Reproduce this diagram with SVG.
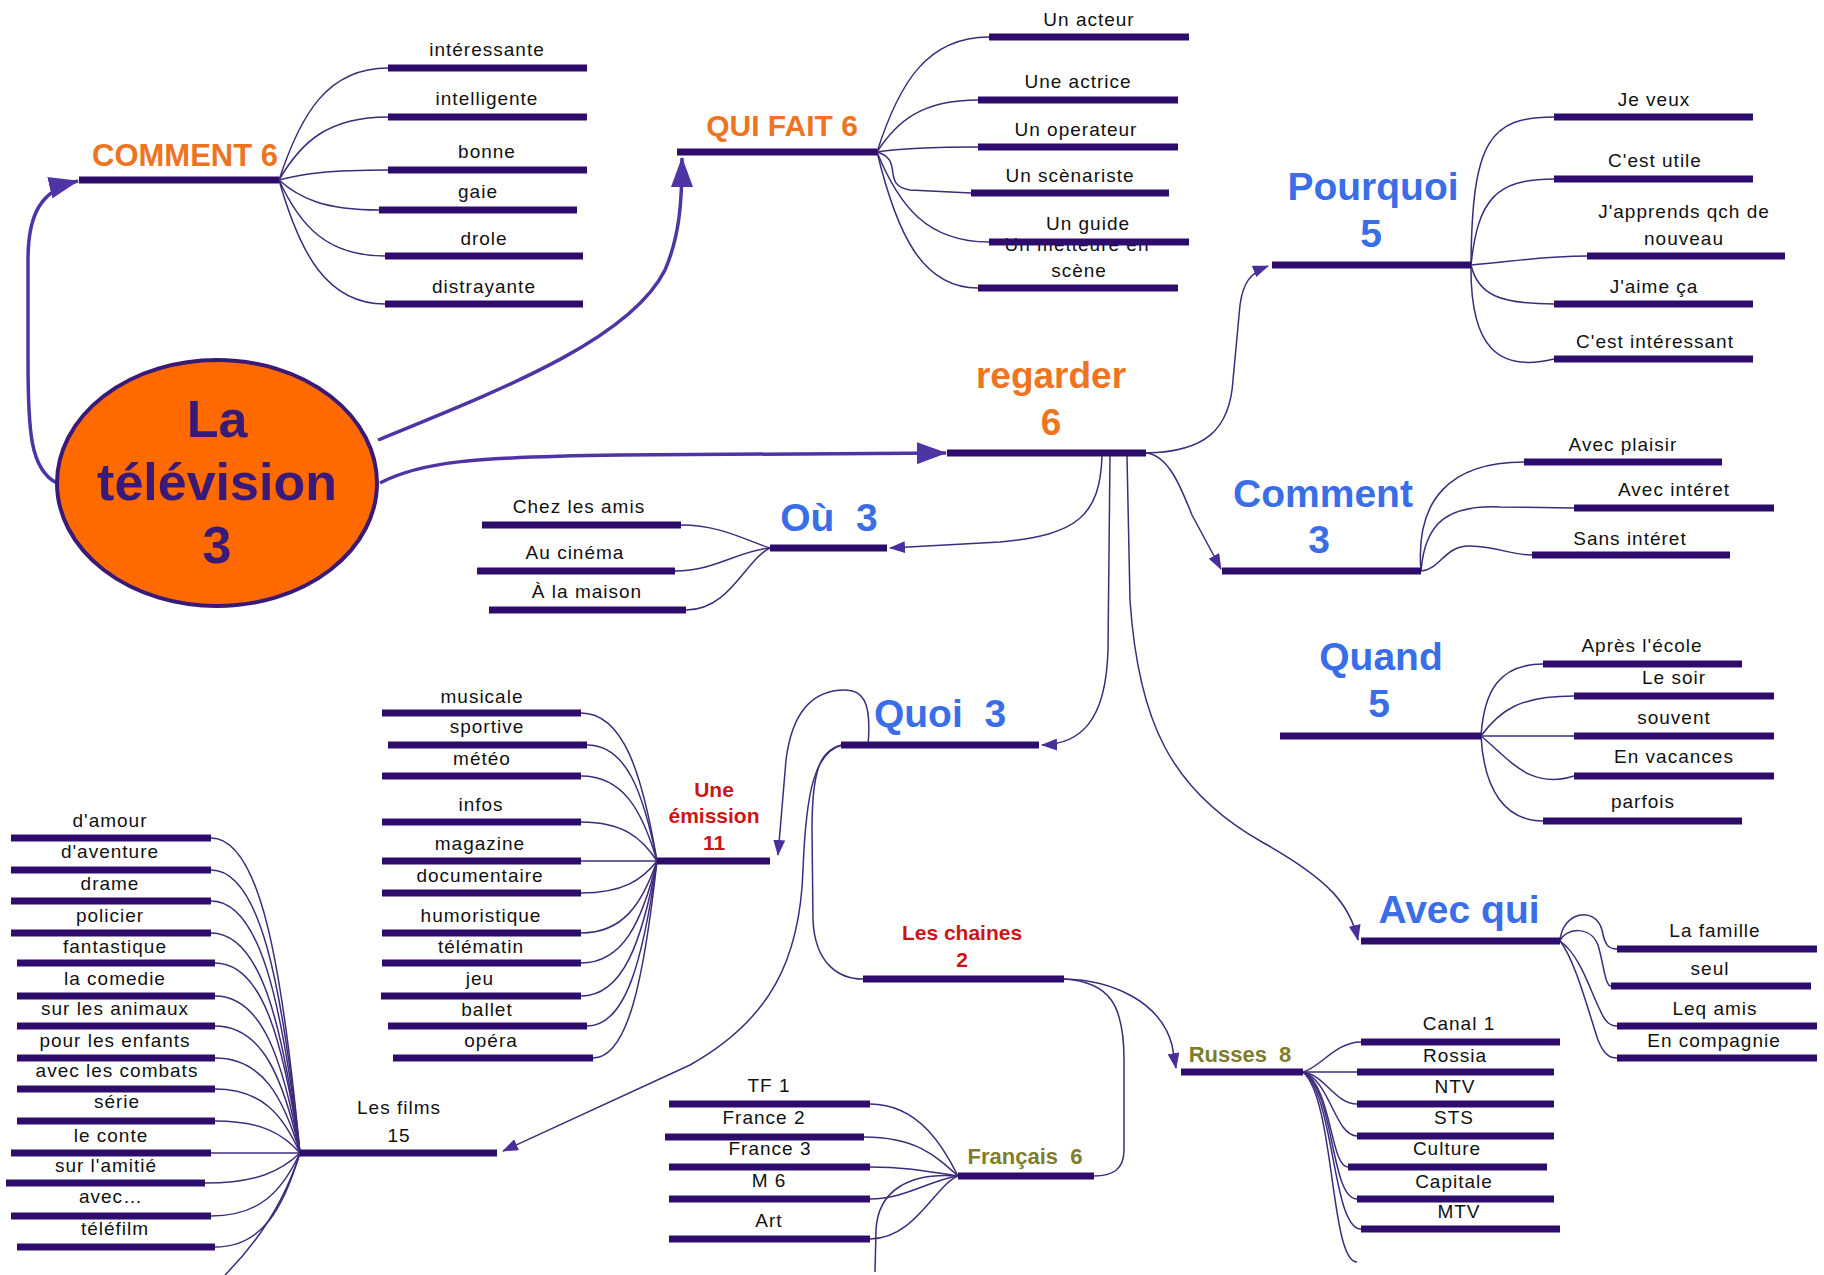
<svg xmlns="http://www.w3.org/2000/svg" width="1824" height="1275" viewBox="0 0 1824 1275">
<defs>
<style>
.bar{stroke:#2E0C6C;stroke-width:7;}
.c{fill:none;stroke:#3E2B7C;stroke-width:1.5;}
.ca{fill:none;stroke:#3E2B7C;stroke-width:1.5;marker-end:url(#ah);}
.big{fill:none;stroke:#4F34A6;stroke-width:3.5;marker-end:url(#bh);}
.t{font-family:"Liberation Sans",Arial,sans-serif;font-size:19px;letter-spacing:1px;fill:#111;text-anchor:middle;}
.h{font-family:"Liberation Sans",Arial,sans-serif;font-weight:bold;text-anchor:middle;}
.or{fill:#EE7422;}
.bl{fill:#3A6EE8;font-size:39px;}
.rd{fill:#CC1515;font-size:21px;}
.ol{fill:#7D7D2B;font-size:22px;}
.root{font-family:"Liberation Sans",Arial,sans-serif;font-weight:bold;font-size:52px;fill:#3A1A78;text-anchor:middle;}
</style>
<marker id="ah" viewBox="0 0 16 12" refX="15" refY="6" markerWidth="16" markerHeight="12" markerUnits="userSpaceOnUse" orient="auto"><path d="M0,0 L16,6 L0,12 z" fill="#4A2F9A"/></marker>
<marker id="bh" viewBox="0 0 30 22" refX="29" refY="11" markerWidth="30" markerHeight="22" markerUnits="userSpaceOnUse" orient="auto"><path d="M0,0 L30,11 L0,22 z" fill="#4F34A6"/></marker>
</defs>
<rect width="1824" height="1275" fill="#fff"/>

<g id="connectors">
<!-- root arrows -->
<path class="big" d="M57,483 C30,470 28,430 28,360 L28,260 C28,215 40,190 78,181"/>
<path class="big" d="M378,440 C500,390 630,340 665,270 C680,235 682,200 682,158"/>
<path class="big" d="M380,483 C420,462 470,457 620,455 L946,453"/>
<!-- COMMENT 6 -->
<path class="c" d="M279,180 C301,113 328,68 388,68"/>
<path class="c" d="M279,180 C301,142 328,117 388,117"/>
<path class="c" d="M279,180 C301,174 328,170 388,170"/>
<path class="c" d="M279,180 C299,198 324,210 379,210"/>
<path class="c" d="M279,180 C300,226 327,256 385,256"/>
<path class="c" d="M279,180 C300,254 327,304 385,304"/>
<!-- QUI FAIT 6 -->
<path class="c" d="M877,152 C899,83 927,37 989,37"/>
<path class="c" d="M877,152 C897,121 922,100 978,100"/>
<path class="c" d="M877,152 C897,149 922,147 978,147"/>
<path class="c" d="M877,152 C905,160 880,185 910,190 L971,193"/>
<path class="c" d="M877,152 C899,206 927,242 989,242"/>
<path class="c" d="M877,152 C897,234 922,288 978,288"/>
<!-- regarder -->
<path class="ca" d="M1146,453 C1205,452 1230,430 1233,380 L1240,305 C1243,283 1250,273 1268,266"/>
<path class="ca" d="M1146,453 C1168,455 1180,485 1192,515 L1221,569"/>
<path class="ca" d="M1102,456 C1100,515 1078,535 1000,542 L890,548"/>
<path class="ca" d="M1110,456 L1108,650 C1106,722 1080,744 1042,745"/>
<path class="ca" d="M1127,456 L1130,600 C1138,720 1170,790 1262,842 C1330,880 1350,905 1358,940"/>
<!-- Pourquoi -->
<path class="c" d="M1471,265 C1472,140 1490,117 1554,117"/>
<path class="c" d="M1471,265 C1478,200 1495,179 1554,179"/>
<path class="c" d="M1471,265 C1510,262 1540,256 1587,256"/>
<path class="c" d="M1471,265 C1478,295 1500,304 1554,304"/>
<path class="c" d="M1471,265 C1470,350 1500,372 1554,359"/>
<!-- Comment 3 -->
<path class="c" d="M1421,571 C1415,500 1450,462 1524,462"/>
<path class="c" d="M1421,571 C1425,520 1450,505 1500,507 L1574,508"/>
<path class="c" d="M1421,571 C1440,570 1445,545 1470,546 C1500,547 1510,555 1532,555"/>
<!-- Quand -->
<path class="c" d="M1481,736 C1484,690 1500,664 1543,664"/>
<path class="c" d="M1481,736 C1500,710 1520,696 1574,696"/>
<path class="c" d="M1481,736 L1574,736"/>
<path class="c" d="M1481,736 C1510,760 1530,790 1574,776"/>
<path class="c" d="M1481,736 C1484,790 1505,821 1543,821"/>
<!-- Avec qui -->
<path class="c" d="M1560,941 C1562,912 1595,905 1602,930 C1605,945 1608,949 1617,949"/>
<path class="c" d="M1560,941 C1565,928 1590,925 1598,945 C1604,965 1605,986 1611,986"/>
<path class="c" d="M1560,941 C1580,955 1590,990 1600,1010 C1605,1022 1610,1026 1617,1026"/>
<path class="c" d="M1560,941 C1575,960 1588,1010 1598,1040 C1604,1055 1610,1058 1617,1058"/>
<!-- Où -->
<path class="c" d="M770,548 C745,540 720,525 681,525"/>
<path class="c" d="M770,548 C740,550 715,571 675,571"/>
<path class="c" d="M770,548 C745,560 730,610 686,610"/>
<!-- Quoi -->
<path class="ca" d="M868,745 C872,700 862,690 845,690 C812,690 792,712 786,760 L778,855"/>
<path class="c" d="M842,745 C820,750 812,770 812,830 L813,920 C815,965 840,979 863,979"/>
<path class="ca" d="M842,745 C815,752 806,790 803,870 C800,960 770,1020 690,1065 L503,1151"/>
<!-- Une émission -->
<path class="c" d="M657,861 C642,772 623,713 581,713"/>
<path class="c" d="M657,861 C643,791 626,745 587,745"/>
<path class="c" d="M657,861 C642,810 623,776 581,776"/>
<path class="c" d="M657,861 C642,838 623,822 581,822"/>
<path class="c" d="M657,861 L581,861"/>
<path class="c" d="M657,861 C642,880 623,893 581,893"/>
<path class="c" d="M657,861 C642,904 623,933 581,933"/>
<path class="c" d="M657,861 C642,922 623,963 581,963"/>
<path class="c" d="M657,861 C642,942 623,996 581,996"/>
<path class="c" d="M657,861 C643,960 626,1026 587,1026"/>
<path class="c" d="M657,861 C644,979 628,1058 593,1058"/>
<!-- Les films -->
<path class="c" d="M300,1153 C282,964 260,838 211,838"/>
<path class="c" d="M300,1153 C282,983 260,870 211,870"/>
<path class="c" d="M300,1153 C282,1002 260,901 211,901"/>
<path class="c" d="M300,1153 C282,1021 260,933 211,933"/>
<path class="c" d="M300,1153 C283,1039 262,963 215,963"/>
<path class="c" d="M300,1153 C283,1059 262,996 215,996"/>
<path class="c" d="M300,1153 C283,1077 262,1026 215,1026"/>
<path class="c" d="M300,1153 C283,1096 262,1058 215,1058"/>
<path class="c" d="M300,1153 C283,1115 262,1089 215,1089"/>
<path class="c" d="M300,1153 C283,1134 262,1121 215,1121"/>
<path class="c" d="M300,1153 L211,1153"/>
<path class="c" d="M300,1153 C281,1171 257,1183 205,1183"/>
<path class="c" d="M300,1153 C282,1191 260,1216 211,1216"/>
<path class="c" d="M300,1153 C283,1209 262,1247 215,1247"/>
<path class="c" d="M300,1153 C285,1200 260,1240 225,1275"/>
<!-- Les chaines -->
<path class="ca" d="M1064,979 C1110,980 1160,1000 1172,1045 L1176,1068"/>
<path class="c" d="M1064,979 C1110,982 1124,1005 1124,1060 L1124,1150 C1124,1170 1112,1176 1094,1176"/>
<!-- Français -->
<path class="c" d="M958,1176 C945,1150 920,1104 870,1104"/>
<path class="c" d="M958,1176 C935,1155 915,1137 864,1137"/>
<path class="c" d="M958,1176 C930,1172 910,1167 870,1167"/>
<path class="c" d="M958,1176 C930,1180 905,1199 870,1199"/>
<path class="c" d="M958,1176 C935,1185 915,1239 870,1239"/>
<path class="c" d="M958,1176 C910,1172 878,1190 876,1230 L875,1272"/>
<!-- Russes -->
<path class="c" d="M1303,1072 C1320,1068 1335,1042 1361,1042"/>
<path class="c" d="M1303,1072 L1357,1072"/>
<path class="c" d="M1303,1072 C1325,1075 1335,1104 1357,1104"/>
<path class="c" d="M1303,1072 C1330,1080 1335,1136 1357,1136"/>
<path class="c" d="M1303,1072 C1332,1085 1330,1167 1348,1167"/>
<path class="c" d="M1303,1072 C1335,1090 1330,1199 1357,1199"/>
<path class="c" d="M1303,1072 C1335,1095 1332,1229 1361,1229"/>
<path class="c" d="M1303,1072 C1335,1100 1330,1262 1357,1262"/>
</g>

<g id="node-root">
<ellipse cx="217" cy="483" rx="160" ry="123" fill="#FF6A00" stroke="#3A1A78" stroke-width="4"/>
<text class="root" x="217" y="437">La</text>
<text class="root" x="217" y="500">télévision</text>
<text class="root" x="217" y="563">3</text>
</g>

<g id="node-comment6"><line class="bar" x1="79" y1="180" x2="279" y2="180"/><text class="h or" x="185" y="166" font-size="31">COMMENT 6</text></g>
<g id="node-interessante"><text class="t" x="487" y="56">intéressante</text><line class="bar" x1="388" y1="68" x2="587" y2="68"/></g>
<g id="node-intelligente"><text class="t" x="487" y="105">intelligente</text><line class="bar" x1="388" y1="117" x2="587" y2="117"/></g>
<g id="node-bonne"><text class="t" x="487" y="158">bonne</text><line class="bar" x1="388" y1="170" x2="587" y2="170"/></g>
<g id="node-gaie"><text class="t" x="478" y="198">gaie</text><line class="bar" x1="379" y1="210" x2="577" y2="210"/></g>
<g id="node-drole"><text class="t" x="484" y="245">drole</text><line class="bar" x1="385" y1="256" x2="583" y2="256"/></g>
<g id="node-distrayante"><text class="t" x="484" y="293">distrayante</text><line class="bar" x1="385" y1="304" x2="583" y2="304"/></g>

<g id="node-quifait"><line class="bar" x1="677" y1="152" x2="877" y2="152"/><text class="h or" x="782" y="136" font-size="30">QUI FAIT 6</text></g>
<g id="node-acteur"><text class="t" x="1089" y="26">Un acteur</text><line class="bar" x1="989" y1="37" x2="1189" y2="37"/></g>
<g id="node-actrice"><text class="t" x="1078" y="88">Une actrice</text><line class="bar" x1="978" y1="100" x2="1178" y2="100"/></g>
<g id="node-operateur"><text class="t" x="1076" y="136">Un operateur</text><line class="bar" x1="978" y1="147" x2="1178" y2="147"/></g>
<g id="node-scenariste"><text class="t" x="1070" y="182">Un scènariste</text><line class="bar" x1="971" y1="193" x2="1169" y2="193"/></g>
<g id="node-metteur"><text class="t" x="1077" y="251">Un metteure en</text><text class="t" x="1079" y="277">scène</text><line class="bar" x1="978" y1="288" x2="1178" y2="288"/></g>
<g id="node-guide"><text class="t" x="1088" y="230">Un guide</text><line class="bar" x1="989" y1="242" x2="1189" y2="242"/></g>

<g id="node-regarder"><line class="bar" x1="947" y1="453" x2="1146" y2="453"/><text class="h or" x="1051" y="388" font-size="37">regarder</text><text class="h or" x="1051" y="435" font-size="37">6</text></g>

<g id="node-pourquoi"><line class="bar" x1="1272" y1="265" x2="1471" y2="265"/><text class="h bl" x="1373" y="200">Pourquoi</text><text class="h bl" x="1371" y="247">5</text></g>
<g id="node-jeveux"><text class="t" x="1654" y="106">Je veux</text><line class="bar" x1="1554" y1="117" x2="1753" y2="117"/></g>
<g id="node-utile"><text class="t" x="1655" y="167">C'est utile</text><line class="bar" x1="1554" y1="179" x2="1753" y2="179"/></g>
<g id="node-apprends"><text class="t" x="1684" y="218">J'apprends qch de</text><text class="t" x="1684" y="245">nouveau</text><line class="bar" x1="1587" y1="256" x2="1785" y2="256"/></g>
<g id="node-aime"><text class="t" x="1654" y="293">J'aime ça</text><line class="bar" x1="1554" y1="304" x2="1753" y2="304"/></g>
<g id="node-interessant"><text class="t" x="1655" y="348">C'est intéressant</text><line class="bar" x1="1554" y1="359" x2="1753" y2="359"/></g>

<g id="node-comment3"><line class="bar" x1="1222" y1="571" x2="1421" y2="571"/><text class="h bl" x="1323" y="507">Comment</text><text class="h bl" x="1319" y="553">3</text></g>
<g id="node-plaisir"><text class="t" x="1623" y="451">Avec plaisir</text><line class="bar" x1="1524" y1="462" x2="1722" y2="462"/></g>
<g id="node-avecinteret"><text class="t" x="1674" y="496">Avec intéret</text><line class="bar" x1="1574" y1="508" x2="1774" y2="508"/></g>
<g id="node-sansinteret"><text class="t" x="1630" y="545">Sans intéret</text><line class="bar" x1="1532" y1="555" x2="1730" y2="555"/></g>

<g id="node-quand"><line class="bar" x1="1280" y1="736" x2="1481" y2="736"/><text class="h bl" x="1381" y="670">Quand</text><text class="h bl" x="1379" y="717">5</text></g>
<g id="node-ecole"><text class="t" x="1642" y="652">Après l'école</text><line class="bar" x1="1543" y1="664" x2="1742" y2="664"/></g>
<g id="node-soir"><text class="t" x="1674" y="684">Le soir</text><line class="bar" x1="1574" y1="696" x2="1774" y2="696"/></g>
<g id="node-souvent"><text class="t" x="1674" y="724">souvent</text><line class="bar" x1="1574" y1="736" x2="1774" y2="736"/></g>
<g id="node-vacances"><text class="t" x="1674" y="763">En vacances</text><line class="bar" x1="1574" y1="776" x2="1774" y2="776"/></g>
<g id="node-parfois"><text class="t" x="1643" y="808">parfois</text><line class="bar" x1="1543" y1="821" x2="1742" y2="821"/></g>

<g id="node-avecqui"><line class="bar" x1="1361" y1="941" x2="1560" y2="941"/><text class="h bl" x="1459" y="923">Avec qui</text></g>
<g id="node-famille"><text class="t" x="1715" y="937">La famille</text><line class="bar" x1="1617" y1="949" x2="1817" y2="949"/></g>
<g id="node-seul"><text class="t" x="1710" y="975">seul</text><line class="bar" x1="1611" y1="986" x2="1811" y2="986"/></g>
<g id="node-leqamis"><text class="t" x="1715" y="1015">Leq amis</text><line class="bar" x1="1617" y1="1026" x2="1817" y2="1026"/></g>
<g id="node-compagnie"><text class="t" x="1714" y="1047">En compagnie</text><line class="bar" x1="1617" y1="1058" x2="1817" y2="1058"/></g>

<g id="node-ou"><line class="bar" x1="770" y1="548" x2="887" y2="548"/><text class="h bl" x="829" y="531">Où&#160;&#160;3</text></g>
<g id="node-chez"><text class="t" x="579" y="513">Chez les amis</text><line class="bar" x1="482" y1="525" x2="681" y2="525"/></g>
<g id="node-cinema"><text class="t" x="575" y="559">Au cinéma</text><line class="bar" x1="477" y1="571" x2="675" y2="571"/></g>
<g id="node-maison"><text class="t" x="587" y="598">À la maison</text><line class="bar" x1="489" y1="610" x2="686" y2="610"/></g>

<g id="node-quoi"><line class="bar" x1="841" y1="745" x2="1039" y2="745"/><text class="h bl" x="940" y="727">Quoi&#160;&#160;3</text></g>

<g id="node-emission"><line class="bar" x1="657" y1="861" x2="770" y2="861"/><text class="h rd" x="714" y="797">Une</text><text class="h rd" x="714" y="823">émission</text><text class="h rd" x="714" y="850">11</text></g>
<g id="node-musicale"><text class="t" x="482" y="703">musicale</text><line class="bar" x1="382" y1="713" x2="581" y2="713"/></g>
<g id="node-sportive"><text class="t" x="487" y="733">sportive</text><line class="bar" x1="388" y1="745" x2="587" y2="745"/></g>
<g id="node-meteo"><text class="t" x="482" y="765">météo</text><line class="bar" x1="382" y1="776" x2="581" y2="776"/></g>
<g id="node-infos"><text class="t" x="481" y="811">infos</text><line class="bar" x1="382" y1="822" x2="581" y2="822"/></g>
<g id="node-magazine"><text class="t" x="480" y="850">magazine</text><line class="bar" x1="382" y1="861" x2="581" y2="861"/></g>
<g id="node-documentaire"><text class="t" x="480" y="882">documentaire</text><line class="bar" x1="382" y1="893" x2="581" y2="893"/></g>
<g id="node-humoristique"><text class="t" x="481" y="922">humoristique</text><line class="bar" x1="382" y1="933" x2="581" y2="933"/></g>
<g id="node-telematin"><text class="t" x="481" y="953">télématin</text><line class="bar" x1="382" y1="963" x2="581" y2="963"/></g>
<g id="node-jeu"><text class="t" x="480" y="985">jeu</text><line class="bar" x1="381" y1="996" x2="581" y2="996"/></g>
<g id="node-ballet"><text class="t" x="487" y="1016">ballet</text><line class="bar" x1="388" y1="1026" x2="587" y2="1026"/></g>
<g id="node-opera"><text class="t" x="491" y="1047">opéra</text><line class="bar" x1="393" y1="1058" x2="593" y2="1058"/></g>

<g id="node-films"><line class="bar" x1="300" y1="1153" x2="497" y2="1153"/><text class="t" x="399" y="1114">Les films</text><text class="t" x="399" y="1142">15</text></g>
<g id="node-amour"><text class="t" x="110" y="827">d'amour</text><line class="bar" x1="11" y1="838" x2="211" y2="838"/></g>
<g id="node-aventure"><text class="t" x="110" y="858">d'aventure</text><line class="bar" x1="11" y1="870" x2="211" y2="870"/></g>
<g id="node-drame"><text class="t" x="110" y="890">drame</text><line class="bar" x1="11" y1="901" x2="211" y2="901"/></g>
<g id="node-policier"><text class="t" x="110" y="922">policier</text><line class="bar" x1="11" y1="933" x2="211" y2="933"/></g>
<g id="node-fantastique"><text class="t" x="115" y="953">fantastique</text><line class="bar" x1="17" y1="963" x2="215" y2="963"/></g>
<g id="node-comedie"><text class="t" x="115" y="985">la comedie</text><line class="bar" x1="17" y1="996" x2="215" y2="996"/></g>
<g id="node-animaux"><text class="t" x="115" y="1015">sur les animaux</text><line class="bar" x1="17" y1="1026" x2="215" y2="1026"/></g>
<g id="node-enfants"><text class="t" x="115" y="1047">pour les enfants</text><line class="bar" x1="17" y1="1058" x2="215" y2="1058"/></g>
<g id="node-combats"><text class="t" x="117" y="1077">avec les combats</text><line class="bar" x1="17" y1="1089" x2="215" y2="1089"/></g>
<g id="node-serie"><text class="t" x="117" y="1108">série</text><line class="bar" x1="17" y1="1121" x2="215" y2="1121"/></g>
<g id="node-conte"><text class="t" x="111" y="1142">le conte</text><line class="bar" x1="11" y1="1153" x2="211" y2="1153"/></g>
<g id="node-amitie"><text class="t" x="106" y="1172">sur l'amitié</text><line class="bar" x1="6" y1="1183" x2="205" y2="1183"/></g>
<g id="node-avec"><text class="t" x="111" y="1203">avec…</text><line class="bar" x1="11" y1="1216" x2="211" y2="1216"/></g>
<g id="node-telefilm"><text class="t" x="115" y="1235">téléfilm</text><line class="bar" x1="17" y1="1247" x2="215" y2="1247"/></g>

<g id="node-chaines"><line class="bar" x1="863" y1="979" x2="1064" y2="979"/><text class="h rd" x="962" y="940">Les chaines</text><text class="h rd" x="962" y="967">2</text></g>
<g id="node-francais"><line class="bar" x1="958" y1="1176" x2="1094" y2="1176"/><text class="h ol" x="1025" y="1164">Français&#160;&#160;6</text></g>
<g id="node-tf1"><text class="t" x="769" y="1092">TF 1</text><line class="bar" x1="669" y1="1104" x2="870" y2="1104"/></g>
<g id="node-france2"><text class="t" x="764" y="1124">France 2</text><line class="bar" x1="665" y1="1137" x2="864" y2="1137"/></g>
<g id="node-france3"><text class="t" x="770" y="1155">France 3</text><line class="bar" x1="669" y1="1167" x2="870" y2="1167"/></g>
<g id="node-m6"><text class="t" x="769" y="1187">M 6</text><line class="bar" x1="669" y1="1199" x2="870" y2="1199"/></g>
<g id="node-art"><text class="t" x="769" y="1227">Art</text><line class="bar" x1="669" y1="1239" x2="870" y2="1239"/></g>

<g id="node-russes"><line class="bar" x1="1181" y1="1072" x2="1303" y2="1072"/><text class="h ol" x="1240" y="1062">Russes&#160;&#160;8</text></g>
<g id="node-canal1"><text class="t" x="1459" y="1030">Canal 1</text><line class="bar" x1="1361" y1="1042" x2="1560" y2="1042"/></g>
<g id="node-rossia"><text class="t" x="1455" y="1062">Rossia</text><line class="bar" x1="1357" y1="1072" x2="1554" y2="1072"/></g>
<g id="node-ntv"><text class="t" x="1455" y="1093">NTV</text><line class="bar" x1="1357" y1="1104" x2="1554" y2="1104"/></g>
<g id="node-sts"><text class="t" x="1454" y="1124">STS</text><line class="bar" x1="1357" y1="1136" x2="1554" y2="1136"/></g>
<g id="node-culture"><text class="t" x="1447" y="1155">Culture</text><line class="bar" x1="1348" y1="1167" x2="1547" y2="1167"/></g>
<g id="node-capitale"><text class="t" x="1454" y="1188">Capitale</text><line class="bar" x1="1357" y1="1199" x2="1554" y2="1199"/></g>
<g id="node-mtv"><text class="t" x="1459" y="1218">MTV</text><line class="bar" x1="1361" y1="1229" x2="1560" y2="1229"/></g>
</svg>
